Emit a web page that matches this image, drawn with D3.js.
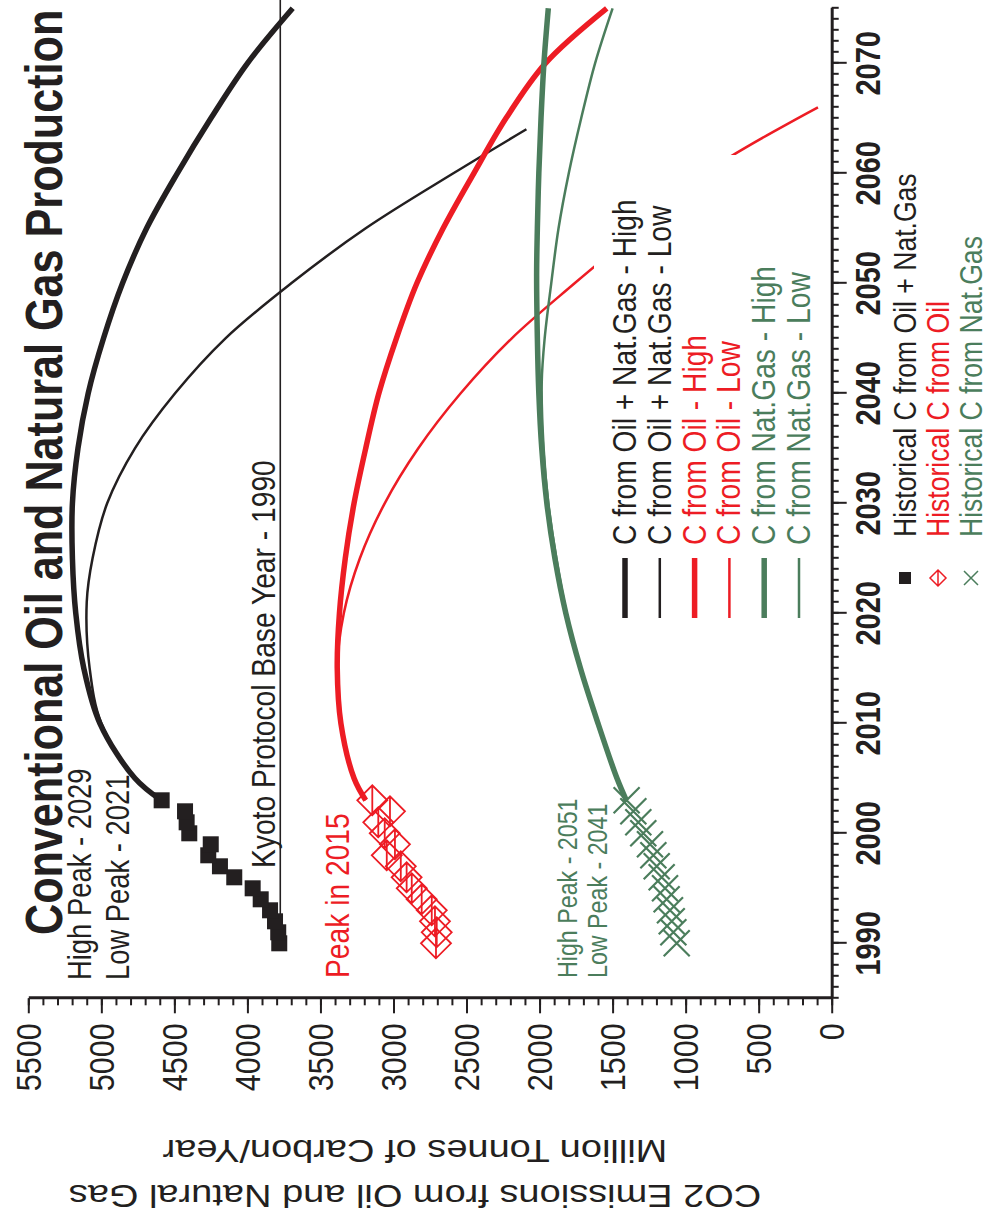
<!DOCTYPE html>
<html>
<head>
<meta charset="utf-8">
<script src="https://cdn.jsdelivr.net/npm/d3@7"></script>
<style>
  body { margin: 0; background: #fff; }
  svg { display: block; }
  text { font-family: "Liberation Sans", Arial, Helvetica, sans-serif; }
</style>
</head>
<body>
<svg id="chart" width="990" height="1226"></svg>
<script>
// ---------- data (million tonnes of carbon per year) ----------
const histYears  = [1990, 1991, 1992, 1993, 1994, 1995, 1996, 1997, 1998, 1999, 2000, 2001, 2002, 2003];
const histOilGas = [3782, 3789, 3811, 3845, 3909, 3964, 4090, 4188, 4268, 4251, 4398, 4416, 4427, 4587];
const histOil    = [2709, 2704, 2716, 2738, 2807, 2875, 2910, 2950, 3046, 2990, 3060, 3104, 3024, 3145];
const histGas    = [1061, 1084, 1095, 1107, 1130, 1141, 1164, 1198, 1221, 1244, 1290, 1324, 1358, 1404];

const oilGasHighYears = [2003, 2005, 2010, 2015, 2020, 2025, 2030, 2035, 2040, 2045, 2050, 2055, 2060, 2065, 2070, 2075];
const oilGasHigh      = [4590, 4770, 5010, 5120, 5175, 5198, 5198, 5160, 5090, 4985, 4855, 4690, 4480, 4250, 4000, 3690];
const oilGasLowYears  = [2003, 2005, 2010, 2015, 2021, 2025, 2030, 2035, 2040, 2045, 2050, 2055, 2060, 2064];
const oilGasLow       = [4590, 4770, 5000, 5080, 5100, 5060, 4960, 4770, 4495, 4150, 3700, 3190, 2590, 2090];

const oilHighYears = [2003, 2005, 2010, 2015, 2020, 2025, 2030, 2035, 2040, 2045, 2050, 2055, 2060, 2065, 2070, 2075];
const oilHigh      = [3190, 3270, 3360, 3385, 3370, 3330, 3270, 3190, 3100, 2980, 2840, 2660, 2450, 2230, 1960, 1540];
const oilLowYears  = [2003, 2005, 2010, 2015, 2020, 2025, 2030, 2035, 2040, 2045, 2050, 2055, 2060, 2066];
const oilLow       = [3190, 3270, 3360, 3385, 3340, 3230, 3060, 2830, 2540, 2190, 1760, 1310, 870, 94];

const gasHighYears = [2003, 2005, 2010, 2015, 2020, 2025, 2030, 2035, 2040, 2045, 2051, 2055, 2060, 2065, 2070, 2075];
const gasHigh      = [1406, 1470, 1600, 1720, 1820, 1895, 1950, 1985, 2005, 2015, 2020, 2015, 2005, 1990, 1970, 1940];
const gasLowYears  = [2003, 2005, 2010, 2015, 2020, 2025, 2030, 2035, 2041, 2045, 2050, 2055, 2060, 2065, 2070, 2075];
const gasLow       = [1406, 1470, 1600, 1720, 1815, 1885, 1940, 1972, 1985, 1965, 1920, 1870, 1800, 1715, 1620, 1500];

const kyotoYears = [1990, 2076];
const kyotoValue = 3775;

const yearTicks  = [1990, 2000, 2010, 2020, 2030, 2040, 2050, 2060, 2070];
const valueTicks = [0, 500, 1000, 1500, 2000, 2500, 3000, 3500, 4000, 4500, 5000, 5500];

const lineLegend = [
  { label: "C from Oil + Nat.Gas - High", color: "#231f20", width: 5.5 },
  { label: "C from Oil + Nat.Gas - Low",  color: "#231f20", width: 2.5 },
  { label: "C from Oil - High",           color: "#ed1c24", width: 5.5 },
  { label: "C from Oil - Low",            color: "#ed1c24", width: 2.5 },
  { label: "C from Nat.Gas - High",       color: "#4b7d5c", width: 5.5 },
  { label: "C from Nat.Gas - Low",        color: "#4b7d5c", width: 2.5 }
];
const markerLegend = [
  { label: "Historical C from Oil + Nat.Gas", color: "#231f20", shape: "square" },
  { label: "Historical C from Oil",           color: "#ed1c24", shape: "diamond" },
  { label: "Historical C from Nat.Gas",       color: "#4b7d5c", shape: "cross" }
];

// ---------- layout ----------
const BLACK = "#231f20", RED = "#ed1c24", GREEN = "#4b7d5c";
const PAGE_H = 1226;
const SQX = 0.83;               // horizontal condensing of the lettering

const svg = d3.select("#chart");
// The chart is laid out landscape (1226 wide, 990 tall) and turned a quarter turn.
const g = svg.append("g").attr("transform", `translate(0,${PAGE_H}) rotate(-90)`);

const x = d3.scaleLinear().domain([1985, 2075]).range([227.7, 1217.7]);
const y = d3.scaleLinear().domain([0, 5500]).range([831.7, 28.3]);

function txt(parent, s, px, py, o = {}) {
  const t = parent.append("text")
    .attr("transform", `translate(${px},${py}) scale(${o.sx ?? SQX},1)${o.rot ? ` rotate(${o.rot})` : ""}`)
    .attr("font-size", o.size ?? 34)
    .attr("font-weight", o.bold ? "bold" : "normal")
    .attr("fill", o.color ?? BLACK)
    .attr("text-anchor", o.anchor ?? "start")
    .text(s);
  return t;
}

// ---------- title & annotations ----------
txt(g, "Conventional Oil and Natural Gas Production", 291, 62, { size: 52, bold: true });
txt(g, "High Peak - 2029", 246, 91, { size: 33 });
txt(g, "Low Peak  - 2021", 246, 129, { size: 33 });
txt(g, "Peak in 2015", 248, 349, { size: 34, color: RED });
txt(g, "High Peak - 2051", 248, 577, { size: 28, color: GREEN });
txt(g, "Low Peak  - 2041", 248, 607, { size: 28, color: GREEN });

// Kyoto base-year reference line
g.append("line")
  .attr("x1", x(kyotoYears[0])).attr("x2", x(kyotoYears[1]))
  .attr("y1", y(kyotoValue)).attr("y2", y(kyotoValue))
  .attr("stroke", BLACK).attr("stroke-width", 1.6);
txt(g, "Kyoto Protocol Base Year - 1990", 358, 275, { size: 34 });

// ---------- projection curves ----------
const line = d3.line().x(d => x(d[0])).y(d => y(d[1])).curve(d3.curveCatmullRom.alpha(0.5));
const series = [
  { yrs: oilLowYears,     vals: oilLow,     color: RED,   w: 2.5 },
  { yrs: oilGasLowYears,  vals: oilGasLow,  color: BLACK, w: 2.5 },
  { yrs: gasLowYears,     vals: gasLow,     color: GREEN, w: 2.5 },
  { yrs: oilGasHighYears, vals: oilGasHigh, color: BLACK, w: 5.5 },
  { yrs: oilHighYears,    vals: oilHigh,    color: RED,   w: 5.5 },
  { yrs: gasHighYears,    vals: gasHigh,    color: GREEN, w: 5.5 }
];
series.forEach(s => {
  g.append("path")
    .datum(s.yrs.map((yr, i) => [yr, s.vals[i]]))
    .attr("d", line)
    .attr("fill", "none")
    .attr("stroke", s.color)
    .attr("stroke-width", s.w);
});

// ---------- historical markers ----------
const sq = 16, dia = 15, crs = 13;
g.append("g").selectAll("rect").data(histYears).join("rect")
  .attr("x", (d) => x(d) - sq / 2)
  .attr("y", (d, i) => y(histOilGas[i]) - sq / 2)
  .attr("width", sq).attr("height", sq)
  .attr("fill", BLACK);

function diamondPath(cx, cy, r) {
  return `M${cx - r},${cy}L${cx},${cy - r}L${cx + r},${cy}L${cx},${cy + r}Z M${cx - r},${cy}L${cx + r},${cy}`;
}
function crossPath(cx, cy, r) {
  return `M${cx - r},${cy - r}L${cx + r},${cy + r}M${cx - r},${cy + r}L${cx + r},${cy - r}`;
}
g.append("g").selectAll("path").data(histYears).join("path")
  .attr("d", (d, i) => diamondPath(x(d), y(histOil[i]), dia))
  .attr("fill", "none").attr("stroke", RED).attr("stroke-width", 1.8);
g.append("g").selectAll("path").data(histYears).join("path")
  .attr("d", (d, i) => crossPath(x(d), y(histGas[i]), crs))
  .attr("fill", "none").attr("stroke", GREEN).attr("stroke-width", 2.2);

// ---------- legend ----------
const legX = 681, legY0 = 625, legStep = 34.8;
g.append("rect")
  .attr("x", 576).attr("y", 594).attr("width", 495).attr("height", 230)
  .attr("fill", "#fff");
lineLegend.forEach((e, i) => {
  const cy = legY0 + i * legStep;
  g.append("line").attr("x1", 608).attr("x2", 668).attr("y1", cy).attr("y2", cy)
    .attr("stroke", e.color).attr("stroke-width", e.width);
  txt(g, e.label, legX, cy + 11, { size: 34, color: e.color });
});
markerLegend.forEach((e, i) => {
  const cy = 905 + i * 33;
  const cx = 648;
  if (e.shape === "square") {
    g.append("rect").attr("x", cx - 6).attr("y", cy - 6).attr("width", 12).attr("height", 12).attr("fill", e.color);
  } else if (e.shape === "diamond") {
    g.append("path").attr("d", diamondPath(cx, cy, 8)).attr("fill", "none").attr("stroke", e.color).attr("stroke-width", 1.5);
  } else {
    g.append("path").attr("d", crossPath(cx, cy, 7)).attr("fill", "none").attr("stroke", e.color).attr("stroke-width", 1.5);
  }
  txt(g, e.label, 689, cy + 11, { size: 32, color: e.color });
});

// ---------- axes ----------
const axisG = g.append("g").attr("color", BLACK);
axisG.append("g").attr("transform", `translate(0,${y(0)})`)
  .call(d3.axisBottom(x).tickValues(d3.range(1985, 2076)).tickSize(7).tickSizeOuter(0).tickFormat(""));
const xMajor = axisG.append("g").attr("transform", `translate(0,${y(0)})`)
  .call(d3.axisBottom(x).tickValues(yearTicks).tickSize(15).tickSizeOuter(0).tickFormat(""));
axisG.append("g").attr("transform", `translate(${x(1985)},0)`)
  .call(d3.axisLeft(y).tickValues(d3.range(0, 5501, 100)).tickSize(7).tickSizeOuter(0).tickFormat(""));
const yMajor = axisG.append("g").attr("transform", `translate(${x(1985)},0)`)
  .call(d3.axisLeft(y).tickValues(valueTicks).tickSize(15).tickSizeOuter(0).tickFormat(""));
axisG.selectAll(".domain").attr("stroke-width", 3);
axisG.selectAll(".tick line").attr("stroke-width", 2);
xMajor.select(".domain").remove();
yMajor.select(".domain").remove();

yearTicks.forEach(yr => txt(g, String(yr), x(yr), y(0) + 48.5, { size: 35, bold: true, anchor: "middle" }));
valueTicks.forEach(v => txt(g, String(v), x(1985) - 25, y(v) + 12.5, { size: 36, anchor: "end", sx: 0.85 }));

// value-axis title, two lines
txt(g, "CO2 Emissions from Oil and Natural Gas", 41, 415, { size: 38, anchor: "middle", rot: -90 });
txt(g, "Million Tonnes of Carbon/Year", 86, 415, { size: 38, anchor: "middle", rot: -90 });
</script>
</body>
</html>
